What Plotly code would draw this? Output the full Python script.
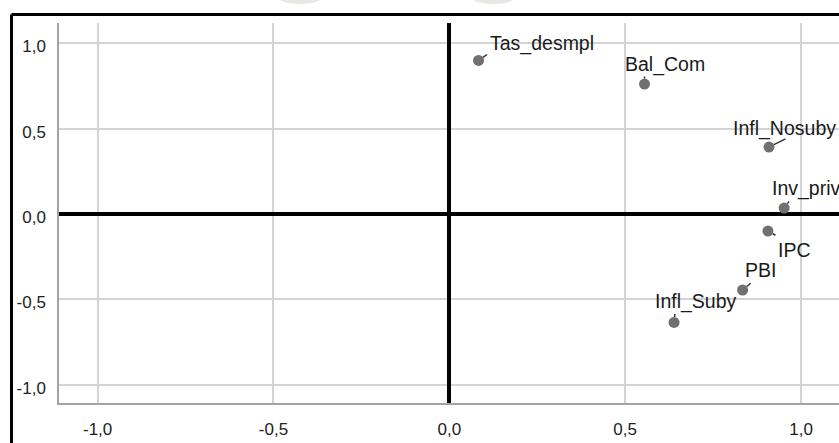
import plotly.graph_objects as go

# ---- data (component loadings) ----
variables = ["Tas_desmpl", "Bal_Com", "Infl_Nosuby", "Inv_priv", "IPC", "PBI", "Infl_Suby"]
comp1 = [0.083, 0.555, 0.909, 0.952, 0.906, 0.834, 0.639]
comp2 = [0.899, 0.761, 0.392, 0.035, -0.100, -0.445, -0.635]
tick_values = [-1.0, -0.5, 0.0, 0.5, 1.0]
tick_labels = ["-1,0", "-0,5", "0,0", "0,5", "1,0"]

# ---- label placement (pixel offsets from each point) ----
text_dx = [11.5, -19.5, -36, -12.5, 10, 2.5, -19]
text_dy = [-17, -20, -19, -20, 19, -20.5, -20.5]
lead_dx = [10, 0, 18, 6, 9, 9.5, 1]
lead_dy = [-7, -9, -9, -8, 5, -8, -10]

W, H = 839, 443
ML, MR, MT, MB = 59, 0, 23, 40
PW, PH = W - ML - MR, H - MT - MB

FONT = "Liberation Sans, Arial, sans-serif"

fig = go.Figure()
fig.add_trace(go.Scatter(
    x=comp1, y=comp2, mode="markers",
    marker=dict(size=11, color="#707070", line=dict(width=0)),
    hoverinfo="text", text=variables, showlegend=False,
))

annotations = []
for name, xv, yv, tdx, tdy, ldx, ldy in zip(variables, comp1, comp2, text_dx, text_dy, lead_dx, lead_dy):
    annotations.append(dict(
        x=xv, y=yv, xref="x", yref="y", text="", showarrow=True,
        ax=ldx, ay=ldy, arrowhead=0, arrowwidth=1.5, arrowcolor="#333333",
        standoff=5.5,
    ))
    annotations.append(dict(
        x=xv, y=yv, xref="x", yref="y", text=name, showarrow=False,
        xanchor="left", yanchor="middle", xshift=tdx, yshift=-tdy,
        borderpad=0, borderwidth=0,
        font=dict(family=FONT, size=19.5, color="#1a1a1a"),
    ))

def px_x(p):
    return (p - ML) / PW

def px_y(p):
    return (H - MB - p) / PH

shapes = [
    # outer frame (left and top edges of the cropped chart box)
    dict(type="line", xref="paper", yref="paper",
         x0=px_x(11.5), x1=px_x(845), y0=px_y(14.5), y1=px_y(14.5),
         line=dict(color="black", width=3)),
    dict(type="line", xref="paper", yref="paper",
         x0=px_x(11.5), x1=px_x(11.5), y0=px_y(14.5), y1=px_y(450),
         line=dict(color="black", width=3)),
    # faint watermark fragments at the top edge
    dict(type="circle", xref="paper", yref="paper",
         x0=px_x(278), x1=px_x(322), y0=px_y(-10), y1=px_y(4),
         fillcolor="#e6e8e3", line=dict(width=0), layer="below"),
    dict(type="circle", xref="paper", yref="paper",
         x0=px_x(471), x1=px_x(515), y0=px_y(-10), y1=px_y(4),
         fillcolor="#e6e8e3", line=dict(width=0), layer="below"),
]

axis_common = dict(
    tickvals=tick_values, ticktext=tick_labels,
    showgrid=True, gridcolor="#d4d4d4", gridwidth=1.5,
    zeroline=True, zerolinecolor="black", zerolinewidth=4,
    showline=True, linecolor="#a3a3a3", linewidth=1.5, mirror=False,
    ticks="", tickfont=dict(family=FONT, size=17, color="#222222"),
)

fig.update_layout(
    width=W, height=H, autosize=False,
    margin=dict(l=ML, r=MR, t=MT, b=MB, pad=0),
    paper_bgcolor="white", plot_bgcolor="white",
    xaxis=dict(range=[-1.1098, 1.1080], ticklabelstandoff=10, **axis_common),
    yaxis=dict(range=[-1.1066, 1.1183], ticklabelstandoff=8, ticklabelshift=3, **axis_common),
    annotations=annotations, shapes=shapes,
)

fig.write_html(
    "out.html",
    config={"displayModeBar": False},
    post_script="document.body.style.margin='0';document.body.style.overflow='hidden';",
)
